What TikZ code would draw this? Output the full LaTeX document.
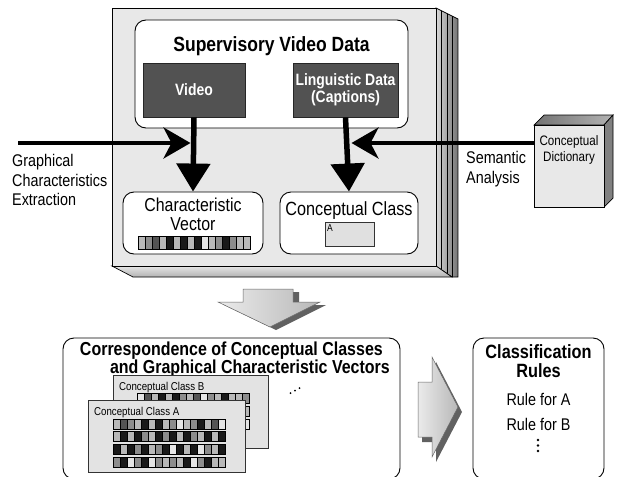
\documentclass[tikz,border=0pt]{standalone}
\usepackage{fontspec}
\setmainfont[FakeStretch=0.85]{Liberation Sans}
\usetikzlibrary{arrows.meta,shapes.geometric}
\newcommand\fs[2]{\fontsize{#1}{#2}\selectfont}
\definecolor{c0}{gray}{0.1}
\definecolor{c1}{gray}{0.33}
\definecolor{c2}{gray}{0.55}
\definecolor{c3}{gray}{0.72}
\definecolor{c4}{gray}{0.9}
\newcommand\cellrow[4]{%
  \foreach \v [count=\i from 0] in {#4} {\draw[line width=0.45pt, fill=c\v] ({#1+7*\i},#2) rectangle ++(7,#3);}}
\begin{document}
\begin{tikzpicture}[x=1pt,y=-1pt,
  panel/.style={draw=black, line width=0.9pt, fill=white, rounded corners=11pt, inner sep=0},
  darkbox/.style={draw=black!85, line width=0.8pt, fill=black!68, text=white, font=\bfseries\fs{16.4}{17.5}, align=center, inner sep=0, minimum height=54pt},
  downarr/.style={line width=5.5pt, -{Triangle[length=28pt,width=33pt]}},
  sidearr/.style={line width=4pt, -{Stealth[length=27pt,width=31pt,inset=8pt]}},
  lbl/.style={font=\fs{16.9}{19.5}, align=left, inner sep=0},
  card/.style={draw=black!80, line width=0.7pt, fill=black!11},
  dotc/.style={fill=black},
  blockfront/.style={draw=black!60, line width=0.5pt, left color=black!8, right color=black!28},
  blockback/.style={fill=black!62}
]
\clip (0,0) rectangle (622,477);
% ---------- main stacked box ----------
\draw[line width=0.7pt, left color=black!15, right color=black!55] (436,8) -- (458,19) -- (458,277) -- (452,277) -- (436,266) -- cycle;
\foreach \x in {441.5,447,452.5} \draw[line width=0.7pt] (\x,{8+(\x-436)/2}) -- (\x,{min(277,266+(\x-436)*11/16)});
\draw[line width=0.7pt, top color=black!10, bottom color=black!30] (112,266) -- (436,266) -- (452,277) -- (133,277) -- cycle;
\node[draw=black, line width=0.9pt, fill=black!9, minimum width=324pt, minimum height=258pt, inner sep=0] (main) at (274,137) {};
% supervisory video data
\node[panel, minimum width=273pt, minimum height=108pt] (svd) at (271.5,74) {};
\node[font=\bfseries\fs{20.6}{22}, anchor=base, inner sep=0] (svdt) at (271.5,51) {Supervisory Video Data};
\node[darkbox, minimum width=102pt] (video) at (194,90) {Video};
\node[darkbox, minimum width=105pt] (ling) at (345.5,90) {Linguistic Data\\(Captions)};
% characteristic vector
\node[panel, minimum width=140pt, minimum height=62pt] (cv) at (193,223) {};
\node[font=\fs{18.7}{19}, align=center, inner sep=0] (cvt) at (193,214) {Characteristic\\Vector};
\cellrow{138}{236}{13}{3,2,1,3,0,3,0,3,0,4,3,2,0,2,3,3}
% conceptual class
\node[panel, minimum width=138pt, minimum height=62pt] (cc) at (349,223) {};
\node[font=\fs{19.1}{20}, anchor=base, inner sep=0] (cct) at (349,215) {Conceptual Class};
\node[draw=black!80, line width=0.7pt, fill=black!12, minimum width=49pt, minimum height=24pt, inner sep=0] (abox) at (349.5,234) {};
\node[font=\fs{10}{11}, anchor=north west, inner sep=0] (atext) at (327,224) {A};
% arrows in main box
\draw[downarr] (video.south) -- (cv.north);
\draw[downarr] (ling.south) -- (cc.north);
\coordinate (gstart) at (18,143);
\coordinate (gend) at (190.5,143);
\draw[sidearr] (gstart) -- (gend);
% dictionary
\draw[line width=0.7pt, left color=black!55, right color=black!30] (534,125) -- (544,115) -- (613,115) -- (604,125) -- cycle;
\draw[line width=0.7pt, fill=black!50] (604,125) -- (613,115) -- (613,198) -- (604,207) -- cycle;
\node[draw=black, line width=0.8pt, fill=black!9, minimum width=70pt, minimum height=82pt, inner sep=0] (dict) at (569,166) {};
\node[font=\fs{13.7}{15.5}, align=center, inner sep=0] (dictt) at (569,150) {Conceptual\\Dictionary};
\coordinate (sstart) at (534,143);
\coordinate (send) at (351.5,143);
\draw[sidearr] (sstart) -- (send);
% labels
\node[lbl, anchor=west] (gce) at (12,180) {Graphical\\Characteristics\\Extraction};
\node[lbl, anchor=west] (sem) at (466,169) {Semantic\\Analysis};
% ---------- down block arrow ----------
\fill[blockback, shift={(6,3)}] (243,289) -- (293,289) -- (293,302) -- (320,302) -- (270,327) -- (218,302) -- (243,302) -- cycle;
\draw[blockfront] (243,289) -- (293,289) -- (293,302) -- (320,302) -- (270,327) -- (218,302) -- (243,302) -- cycle;
% ---------- correspondence box ----------
\node[panel, minimum width=337pt, minimum height=141pt] (corr) at (231.5,408.5) {};
\node[font=\bfseries\fs{18.8}{18}, align=right, anchor=north east, inner sep=0] (corrt) at (390,342) {Correspondence of Conceptual Classes\hspace*{7pt}\\and Graphical Characteristic Vectors};
% card B
\node[card, minimum width=155pt, minimum height=73pt, inner sep=0] (cardB) at (190.5,411.5) {};
\node[font=\fs{11.4}{12}, anchor=base west, inner sep=0] (cardBt) at (119,390) {Conceptual Class B};
\cellrow{137}{393}{10}{4,1,3,0,3,0,2,3,1,4,2,3,0,3,3,2}
\cellrow{137}{406}{10}{2,0,3,1,0,3,4,0,2,0,3,1,3,0,2,3}
\cellrow{137}{419}{10}{3,2,0,3,2,0,0,3,1,2,0,4,0,2,3,4}
% card A
\node[card, minimum width=157pt, minimum height=72pt, inner sep=0] (cardA) at (166.5,436) {};
\node[font=\fs{11.4}{12}, anchor=base west, inner sep=0] (cardAt) at (94,415) {Conceptual Class A};
\cellrow{113}{419}{10}{3,1,2,3,0,3,0,3,2,4,3,2,0,3,1,4}
\cellrow{113}{431}{10}{3,0,3,0,2,3,0,2,0,3,0,2,3,0,3,0}
\cellrow{113}{444}{10}{0,3,0,2,0,3,2,0,4,0,3,0,4,2,3,0}
\cellrow{113}{457}{10}{2,0,4,2,0,4,2,3,2,3,0,4,2,0,3,3}
% dots
\fill[dotc] (290.5,393) circle (1pt) (295,390.5) circle (1pt) (299.5,388) circle (1pt);
% ---------- right block arrow ----------
\fill[blockback, shift={(4,5)}] (418,382) -- (432,382) -- (432,357) -- (458,407) -- (432,457) -- (432,437) -- (418,437) -- cycle;
\draw[blockfront] (418,382) -- (432,382) -- (432,357) -- (458,407) -- (432,457) -- (432,437) -- (418,437) -- cycle;
% ---------- classification rules ----------
\node[panel, minimum width=131pt, minimum height=141pt] (rules) at (538.5,408.5) {};
\node[font=\bfseries\fs{19.2}{19}, align=center, inner sep=0, anchor=north] (rulest) at (538.5,344) {Classification\\Rules};
\node[font=\fs{16.9}{25}, align=center, inner sep=0, anchor=base] (rulea) at (538.5,405) {Rule for A};
\node[font=\fs{16.9}{25}, align=center, inner sep=0, anchor=base] (ruleb) at (538.5,430) {Rule for B};
\fill[dotc] (538,440) circle (1.3pt) (538,445.5) circle (1.3pt) (538,451) circle (1.3pt);
\end{tikzpicture}
\end{document}
